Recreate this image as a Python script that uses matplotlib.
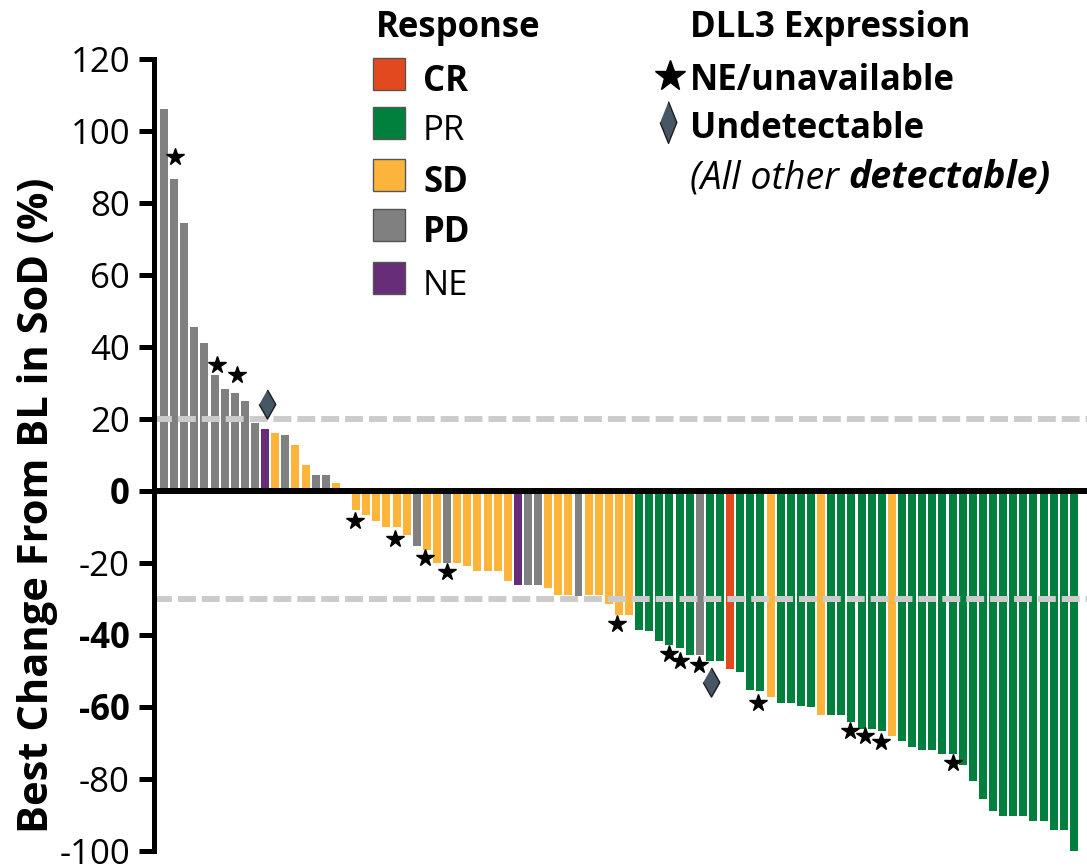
import matplotlib.pyplot as plt
from matplotlib.patches import Rectangle

plt.rcParams['font.family'] = ['Open Sans', 'DejaVu Sans']

# best % change from baseline in sum of diameters, one bar per patient (sorted)
change = [106.1, 86.7, 74.4, 45.6, 41.1, 32.2, 28.3, 27.2, 25.0, 18.9,
          17.2, 16.1, 15.6, 12.8, 7.2, 4.4, 4.4, 2.2, 0.0,
          -5.3, -6.7, -8.3, -10.0, -10.0, -12.2, -15.3, -16.4, -19.9, -19.9,
          -19.9, -20.8, -22.2, -22.2, -22.2, -25.0, -26.1, -26.1, -26.1, -27.0,
          -28.9, -28.9, -29.2, -28.9, -29.0, -31.4, -34.4, -34.4,
          -38.6, -39.0, -41.7, -42.8, -43.6, -45.5, -45.5, -47.2, -47.2, -49.4,
          -50.3, -55.3, -55.6, -57.2, -58.9, -58.9, -59.7, -60.0,
          -62.2, -62.2, -62.2, -64.2, -66.1, -66.1, -66.7, -68.1, -69.4, -71.1,
          -71.9, -71.9, -73.1, -73.1, -76.1,
          -80.6, -85.6, -88.9, -90.3, -90.3, -90.3, -91.6, -91.6, -94.2, -94.2,
          -100.8]

response = ['PD', 'PD', 'PD', 'PD', 'PD', 'PD', 'PD', 'PD', 'PD', 'PD',
            'NE', 'SD', 'PD', 'SD', 'SD', 'PD', 'PD', 'SD', 'SD',
            'SD', 'SD', 'SD', 'SD', 'SD', 'SD', 'PD', 'SD', 'SD', 'PD',
            'SD', 'SD', 'SD', 'SD', 'SD', 'SD', 'NE', 'PD', 'PD', 'SD',
            'SD', 'SD', 'PD', 'SD', 'SD', 'SD', 'SD', 'SD',
            'PR', 'PR', 'PR', 'PR', 'PR', 'PR', 'PD', 'PR', 'PR', 'CR',
            'PR', 'PR', 'PR', 'SD', 'PR', 'PR', 'PR', 'PR',
            'SD', 'PR', 'PR', 'PR', 'PR', 'PR', 'PR', 'SD', 'PR', 'PR',
            'PR', 'PR', 'PR', 'PR', 'PR',
            'PR', 'PR', 'PR', 'PR', 'PR', 'PR', 'PR', 'PR', 'PR', 'PR',
            'PR']

# DLL3 markers (position along the bars, y value)
star_x = [1.1, 5.2, 7.2, 18.9, 22.8, 25.8, 28.0, 44.8, 50.0, 51.0, 52.9,
          58.8, 67.9, 69.3, 70.9, 78.0]
star_y = [92.8, 35.0, 32.2, -8.2, -13.3, -18.6, -22.5, -36.9, -45.3, -47.1,
          -48.3, -58.8, -66.6, -68.1, -69.7, -75.6]
diamond_x = [10.2, 54.1]
diamond_y = [24.2, -53.0]

resp_order = ['CR', 'PR', 'SD', 'PD', 'NE']
resp_bold = [True, False, True, True, False]
colors = {'CR': '#e2491e', 'PR': '#00803c', 'SD': '#fdb43b',
          'PD': '#808080', 'NE': '#672d78'}

yticks = [120, 100, 80, 60, 40, 20, 0, -20, -40, -60, -80, -100]
bold_ticks = [0, -40, -60]

W, H = 1087, 866
fig = plt.figure(figsize=(W / 100, H / 100), dpi=100)
ax = fig.add_axes([154 / W, 1 - 851 / H, 1 - 154 / W, 792 / H])

x = list(range(len(change)))
ax.bar(x, change, width=0.79, color=[colors[r] for r in response], zorder=2)

for lvl in [20, -30]:
    ax.axhline(lvl, color='#cccccc', lw=4.3, ls=(0, (3, 1)), zorder=2.5)
ax.axhline(0, color='black', lw=4.3, zorder=3)

ax.plot(star_x, star_y, ls='none', marker='*', ms=13, color='black',
        zorder=4, clip_on=False)
thin_diamond = [(0, 1), (0.57, 0), (0, -1), (-0.57, 0)]
ax.plot(diamond_x, diamond_y, ls='none', marker=thin_diamond, ms=21,
        mfc='#465664', mec='#1c1c1c', mew=1, zorder=4, clip_on=False)

ax.set_xlim(-0.99, 91.3)
ax.set_ylim(-100, 120)
for s in ['top', 'right', 'bottom']:
    ax.spines[s].set_visible(False)
ax.spines['left'].set_linewidth(3.6)
ax.set_xticks([])
ax.set_yticks(yticks)
ax.set_yticklabels([str(t) for t in yticks], fontsize=25)
for t, lab in zip(yticks, ax.get_yticklabels()):
    if t in bold_ticks:
        lab.set_fontweight('bold')
ax.tick_params(axis='y', length=10.8, width=3.6, pad=6.5)
ax.set_ylabel('Best Change From BL in SoD (%)', fontsize=30, fontweight='bold')
ax.yaxis.set_label_coords(-0.103, 0.437)


def fx(px):
    return px / W


def fy(py):
    return 1 - py / H


# response legend
fig.text(fx(458), fy(37), 'Response', fontsize=25, fontweight='bold',
         ha='center', va='baseline')
box_top = [58, 107, 159, 209, 262]
for r, b, top in zip(resp_order, resp_bold, box_top):
    fig.patches.append(Rectangle((fx(373), fy(top + 32)), 32 / W, 32 / H,
                                 transform=fig.transFigure, facecolor=colors[r],
                                 edgecolor='#555555', lw=1))
    fig.text(fx(423), fy(top + 33), r, fontsize=25,
             fontweight='bold' if b else 'normal', va='baseline')

# DLL3 legend
fig.text(fx(690), fy(37), 'DLL3 Expression', fontsize=25, fontweight='bold',
         va='baseline')
fig.text(fx(690), fy(90), 'NE/unavailable', fontsize=25, fontweight='bold',
         va='baseline')
fig.text(fx(690), fy(138), 'Undetectable', fontsize=25, fontweight='bold',
         va='baseline')
fig.lines.append(plt.Line2D([fx(670)], [fy(76)], marker='*', ms=23,
                            color='black', transform=fig.transFigure))
fig.lines.append(plt.Line2D([fx(668)], [fy(122)], ls='none',
                            marker=[(0, 1), (0.4, 0), (0, -1), (-0.4, 0)], ms=30,
                            mfc='#465664', mec='#1c1c1c', mew=1,
                            transform=fig.transFigure))
t1 = fig.text(fx(690), fy(188), '(All other', fontsize=27, style='italic',
              va='baseline')
ax.annotate('detectable)', xy=(1, 0), xycoords=t1, xytext=(7, 0),
            textcoords='offset points', fontsize=27, style='italic',
            fontweight='bold', va='bottom', annotation_clip=False)

fig.savefig('out.png', dpi=100)
